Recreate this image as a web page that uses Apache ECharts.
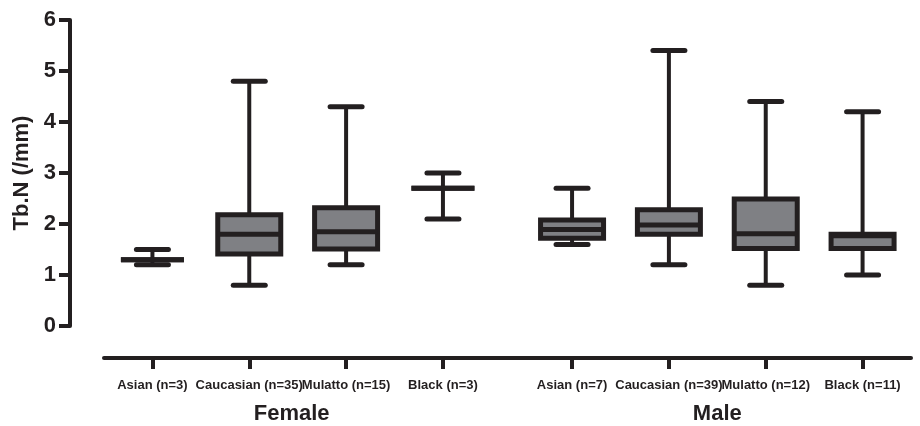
<!DOCTYPE html>
<html>
<head>
<meta charset="utf-8">
<script src="https://cdn.jsdelivr.net/npm/echarts@6/dist/echarts.min.js"></script>
<style>html,body{margin:0;padding:0;background:#fff}#c{width:920px;height:426px}</style>
</head>
<body>
<div id="c"></div>
<script>
// ---- data ----
const groups = ['Female', 'Male'];
const categories = ['Asian (n=3)', 'Caucasian (n=35)', 'Mulatto (n=15)', 'Black (n=3)',
                    'Asian (n=7)', 'Caucasian (n=39)', 'Mulatto (n=12)', 'Black (n=11)'];
const categoryGroup = [0, 0, 0, 0, 1, 1, 1, 1];
const minVals    = [1.2, 0.8, 1.2, 2.1, 1.6, 1.2, 0.8, 1.0];
const q1Vals     = [1.3, 1.41, 1.51, 2.7, 1.72, 1.8, 1.52, 1.52];
const medianVals = [1.3, 1.8, 1.85, 2.7, 1.89, 1.98, 1.81, 1.77];
const q3Vals     = [1.3, 2.18, 2.32, 2.7, 2.08, 2.28, 2.49, 1.8];
const maxVals    = [1.5, 4.8, 4.3, 3.0, 2.7, 5.4, 4.4, 4.2];
const yTicks = [0, 1, 2, 3, 4, 5, 6];

// ---- layout of slots on the category axis (thirds of a box spacing) ----
const STEP = 3, GROUP_GAP = 4, LEAD = 1, TAIL = 1;
const slotOf = [];
let s = LEAD;
categories.forEach((c, i) => {
  if (i > 0) s += (categoryGroup[i] !== categoryGroup[i - 1]) ? GROUP_GAP : STEP;
  slotOf.push(s);
});
const nSlots = slotOf[slotOf.length - 1] + 1 + TAIL;
const axisCats = new Array(nSlots).fill('').map((v, k) => {
  const i = slotOf.indexOf(k);
  return i >= 0 ? categories[i] : ' '.repeat(k + 1);
});
const isSlot = new Set(slotOf);

const seriesData = categories.map((c, i) =>
  [slotOf[i], minVals[i], q1Vals[i], medianVals[i], q3Vals[i], maxVals[i]]);

const INK = '#231f20';
const FILL = '#7f8084';

const chart = echarts.init(document.getElementById('c'), null, {renderer: 'canvas'});

function renderBox(params, api) {
  const x = api.value(0);
  const pt = k => api.coord([x, api.value(k)]);
  const pMin = pt(1), pQ1 = pt(2), pMed = pt(3), pQ3 = pt(4), pMax = pt(5);
  const cx = pMed[0];
  const boxHalf = 31.5, capHalf = 16;
  const lineStyle = w => ({stroke: INK, lineWidth: w, lineCap: 'round'});
  return {
    type: 'group',
    children: [
      {type: 'line', shape: {x1: cx, y1: pQ3[1], x2: cx, y2: pMax[1]}, style: {stroke: INK, lineWidth: 4}},
      {type: 'line', shape: {x1: cx, y1: pQ1[1], x2: cx, y2: pMin[1]}, style: {stroke: INK, lineWidth: 4}},
      {type: 'line', shape: {x1: cx - capHalf, y1: pMax[1], x2: cx + capHalf, y2: pMax[1]}, style: lineStyle(5)},
      {type: 'line', shape: {x1: cx - capHalf, y1: pMin[1], x2: cx + capHalf, y2: pMin[1]}, style: lineStyle(5)},
      {type: 'rect', shape: {x: cx - boxHalf, y: pQ3[1], width: boxHalf * 2, height: pQ1[1] - pQ3[1]},
        style: {fill: FILL, stroke: INK, lineWidth: 5}},
      {type: 'line', shape: {x1: cx - boxHalf, y1: pMed[1], x2: cx + boxHalf, y2: pMed[1]}, style: {stroke: INK, lineWidth: 5}}
    ]
  };
}

const option = {
  animation: false,
  backgroundColor: '#ffffff',
  grid: {left: 104, right: 9, top: 20, bottom: 100, containLabel: false},
  xAxis: {
    type: 'category',
    data: axisCats,
    offset: 32,
    axisLine: {onZero: false, lineStyle: {color: INK, width: 4}},
    axisTick: {show: true, alignWithLabel: true, length: 11, interval: (i) => isSlot.has(i),
      lineStyle: {color: INK, width: 4}},
    axisLabel: {interval: (i) => isSlot.has(i), margin: 21, color: INK,
      fontFamily: 'Liberation Sans, Arial, sans-serif', fontWeight: 'bold', fontSize: 13},
    splitLine: {show: false}
  },
  yAxis: {
    type: 'value',
    min: yTicks[0], max: yTicks[yTicks.length - 1], interval: 1,
    offset: 34,
    name: 'Tb.N (/mm)',
    nameLocation: 'middle',
    nameGap: 33,
    nameTextStyle: {color: INK, fontFamily: 'Liberation Sans, Arial, sans-serif', fontWeight: 'bold', fontSize: 22},
    axisLine: {show: true, lineStyle: {color: INK, width: 4}},
    axisTick: {show: true, length: 11, lineStyle: {color: INK, width: 4}},
    axisLabel: {margin: 14, color: INK, fontFamily: 'Liberation Sans, Arial, sans-serif', fontWeight: 'bold', fontSize: 22},
    splitLine: {show: false}
  },
  series: [{
    type: 'custom',
    renderItem: renderBox,
    encode: {x: 0, y: [1, 2, 3, 4, 5]},
    data: seriesData,
    clip: false
  }]
};
chart.setOption(option);

// group titles, centred under each group's boxes (pixel positions from the axis scale)
function groupCenterPx(g) {
  const idx = categoryGroup.map((v, i) => v === g ? i : -1).filter(i => i >= 0);
  const a = chart.convertToPixel({xAxisIndex: 0}, slotOf[idx[0]]);
  const b = chart.convertToPixel({xAxisIndex: 0}, slotOf[idx[idx.length - 1]]);
  return (a + b) / 2;
}
const titleNudge = [-6, 0];
const titleY = 414;
chart.setOption({
  graphic: groups.map((g, gi) => ({
    type: 'text', x: groupCenterPx(gi) + titleNudge[gi], y: titleY,
    style: {text: g, fill: INK, font: 'bold 22px "Liberation Sans", Arial, sans-serif',
      textAlign: 'center', textVerticalAlign: 'middle'}
  }))
});
</script>
</body>
</html>
